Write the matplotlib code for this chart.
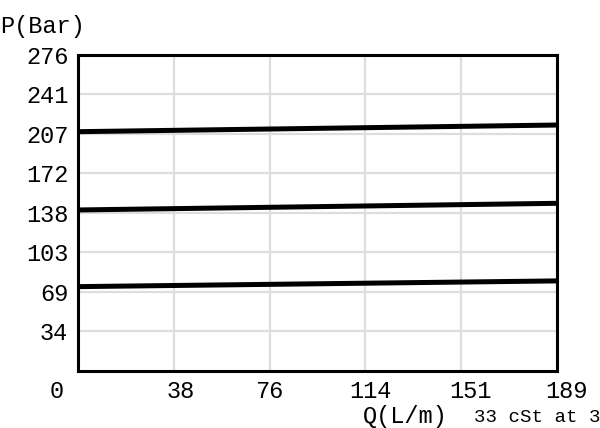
import matplotlib
matplotlib.use("Agg")
import matplotlib.pyplot as plt
import matplotlib.transforms as mtransforms

# Data (bar vs L/min)
flow = [0, 189]
p_high = [208.8, 214.6]
p_mid = [140.4, 146.2]
p_low = [73.4, 78.4]

x_ticks = [0, 37.85, 75.7, 113.55, 151.4, 189.25]
x_labels = ["0", "38", "76", "114", "151", "189"]
y_ticks = [34.47 * k for k in range(1, 9)]
y_labels = ["34", "69", "103", "138", "172", "207", "241", "276"]

plt.rcParams['font.family'] = ['Liberation Mono', 'DejaVu Sans Mono']

fig = plt.figure(figsize=(6.0, 4.28), dpi=100)
ax = fig.add_axes([0.13, 0.134, 0.798, 0.7375])

for p in (p_high, p_mid, p_low):
    ax.plot(flow, p, color='black', lw=3.6, solid_capstyle='butt', zorder=3)

ax.set_xlim(0, 189.25)
ax.set_ylim(0, 275.8)
ax.set_xticks(x_ticks)
ax.set_xticklabels(x_labels, fontsize=17)
ax.set_yticks(y_ticks)
ax.set_yticklabels(y_labels, fontsize=17)
ax.tick_params(axis='y', length=0, pad=7)
ax.tick_params(axis='x', length=0, pad=7)

offsets = [-21, 7, 0, 5, 9, 10]
for lab, dx in zip(ax.get_xticklabels(), offsets):
    lab.set_transform(lab.get_transform() + mtransforms.ScaledTranslation(dx / 100, 0, fig.dpi_scale_trans))

ax.grid(True, color='#dddddd', lw=1.6, zorder=0)
ax.set_axisbelow(True)
for s in ax.spines.values():
    s.set_linewidth(2.2)
    s.set_color('black')

fig.text(0.0, 0.938, "P(Bar)", fontsize=17, ha='left', va='center')
fig.text(0.675, 0.026, "Q(L/m)", fontsize=17, ha='center', va='center')
fig.text(0.79, 0.024, "33 cSt at 3", fontsize=13.8, ha='left', va='center')

fig.savefig("out.png", dpi=100)
